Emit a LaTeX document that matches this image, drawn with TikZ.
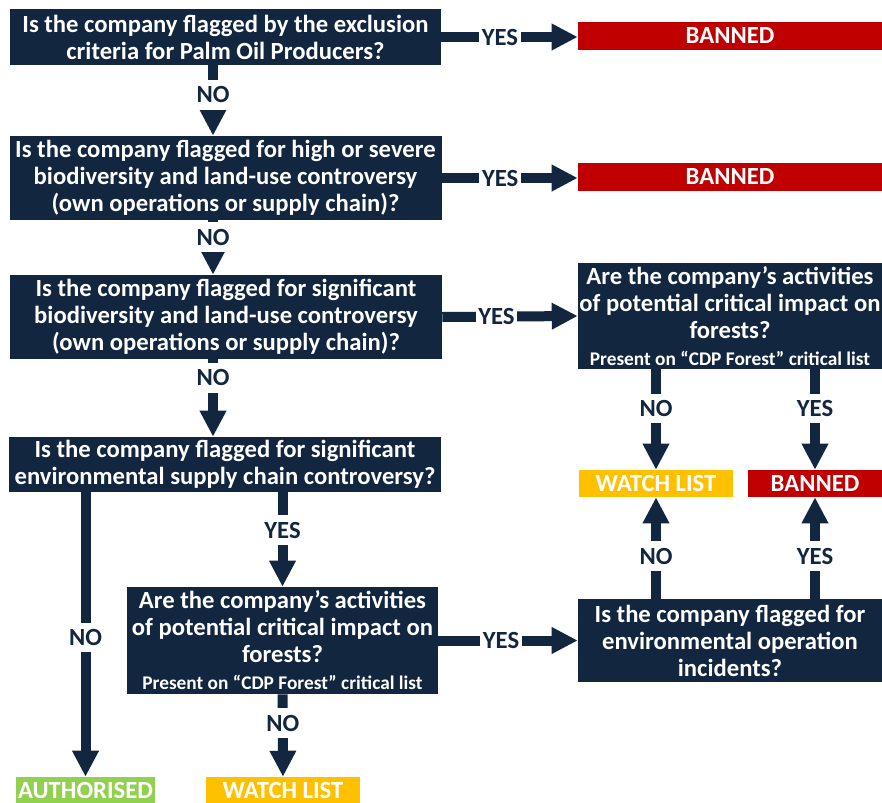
\documentclass[tikz,border=0pt]{standalone}
\usepackage{fontspec}
\setmainfont{Carlito}
\usepackage{xcolor}
\usetikzlibrary{arrows.meta}
\definecolor{navy}{RGB}{18,38,64}
\definecolor{banred}{RGB}{192,0,0}
\definecolor{watchamber}{RGB}{255,192,0}
\definecolor{authgreen}{RGB}{146,208,80}
\newcommand{\qfont}{\bfseries\fontsize{18.5}{20.25}\selectfont}
\newcommand{\subfont}{\bfseries\fontsize{14.5}{15}\selectfont}
\tikzset{
question/.style={
 fill=navy,
 text=white,
 font=\qfont,
 align=center,
 inner sep=0pt
 },
verdict/.style={
 fill=#1,
 text=white,
 font=\qfont,
 inner sep=0pt,
 minimum height=21pt
 },
flow/.style={
 draw=navy,
 line width=7.5pt,
 -{Triangle[width=18.75pt,length=19.5pt]}
 },
answer/.style={
 fill=white,
 text=navy,
 font=\qfont,
 inner xsep=2pt,
 inner ysep=5pt
 }
}
\begin{document}
\begin{tikzpicture}[x=0.75pt,y=-0.75pt]
\useasboundingbox (0,0) rectangle (882,803);
% questions, left column
\node[question,minimum width=323.25pt,minimum height=42pt] (palm) at (225.5,37)
 {Is the company flagged by the exclusion\\criteria for Palm Oil Producers?};
\node[question,minimum width=324pt,minimum height=63pt] (severe) at (225.5,178)
 {Is the company flagged for high or severe\\biodiversity and land-use controversy\\(own operations or supply chain)?};
\node[question,minimum width=324pt,minimum height=63pt] (signif) at (226,317)
 {Is the company flagged for significant\\biodiversity and land-use controversy\\(own operations or supply chain)?};
\node[question,minimum width=324pt,minimum height=41.25pt] (supply) at (225,464.5)
 {Is the company flagged for significant\\environmental supply chain controversy?};
\node[question,minimum width=233.25pt,minimum height=80.25pt] (forestB) at (282.5,640.5)
 {Are the company’s activities\\of potential critical impact on\\forests?\\{\subfont Present on “CDP Forest” critical list}};
% questions, right column
\node[question,minimum width=228pt,minimum height=79.5pt] (forestA) at (730,316)
 {Are the company’s activities\\of potential critical impact on\\forests?\\{\subfont Present on “CDP Forest” critical list}};
\node[question,minimum width=228pt,minimum height=62.25pt] (incid) at (730,640.5)
 {Is the company flagged for\\environmental operation\\incidents?};
% outcomes
\node[verdict=banred,minimum width=228pt] (ban1) at (730,36) {BANNED};
\node[verdict=banred,minimum width=228pt] (ban2) at (730,177) {BANNED};
\node[verdict=watchamber,minimum width=115.5pt,minimum height=20.25pt] (watch1) at (656,483.5) {WATCH LIST};
\node[verdict=banred,minimum width=100.5pt,minimum height=20.25pt] (ban3) at (815,483.5) {BANNED};
\node[verdict=authgreen,minimum width=104.25pt,minimum height=19.5pt] (auth) at (85.5,790) {AUTHORISED};
\node[verdict=watchamber,minimum width=115.5pt,minimum height=19.5pt] (watch2) at (283,790) {WATCH LIST};
% connectors
\draw[flow] (palm.east) -- node[answer,pos=0.43] {YES} (palm.east -| ban1.west);
\draw[flow] (palm.south -| 213,0) -- node[answer,pos=0.42] {NO} (severe.north -| 213,0);
\draw[flow] (severe.east) -- node[answer,pos=0.43] {YES} (severe.east -| ban2.west);
\draw[flow] (severe.south -| 213,0) -- node[answer,pos=0.31] {NO} (signif.north -| 213,0);
\draw[flow] (signif.east) -- node[answer,pos=0.4] {YES} (forestA.west);
\draw[flow] (signif.south -| 213,0) -- node[answer,pos=0.24] {NO} (supply.north -| 213,0);
\draw[flow] (forestA.south -| watch1) -- node[answer,pos=0.39] {NO} (watch1);
\draw[flow] (forestA.south -| ban3) -- node[answer,pos=0.39] {YES} (ban3);
\draw[flow] (supply.south -| auth) -- node[answer,pos=0.51] {NO} (auth);
\draw[flow] (supply.south -| forestB) -- node[answer,pos=0.4] {YES} (forestB);
\draw[flow] (forestB) -- node[answer,pos=0.35] {NO} (watch2);
\draw[flow] (forestB.east) -- node[answer,pos=0.45] {YES} (incid.west);
\draw[flow] (incid.north -| watch1) -- node[answer,pos=0.42] {NO} (watch1);
\draw[flow] (incid.north -| ban3) -- node[answer,pos=0.42] {YES} (ban3);
\end{tikzpicture}
\end{document}
